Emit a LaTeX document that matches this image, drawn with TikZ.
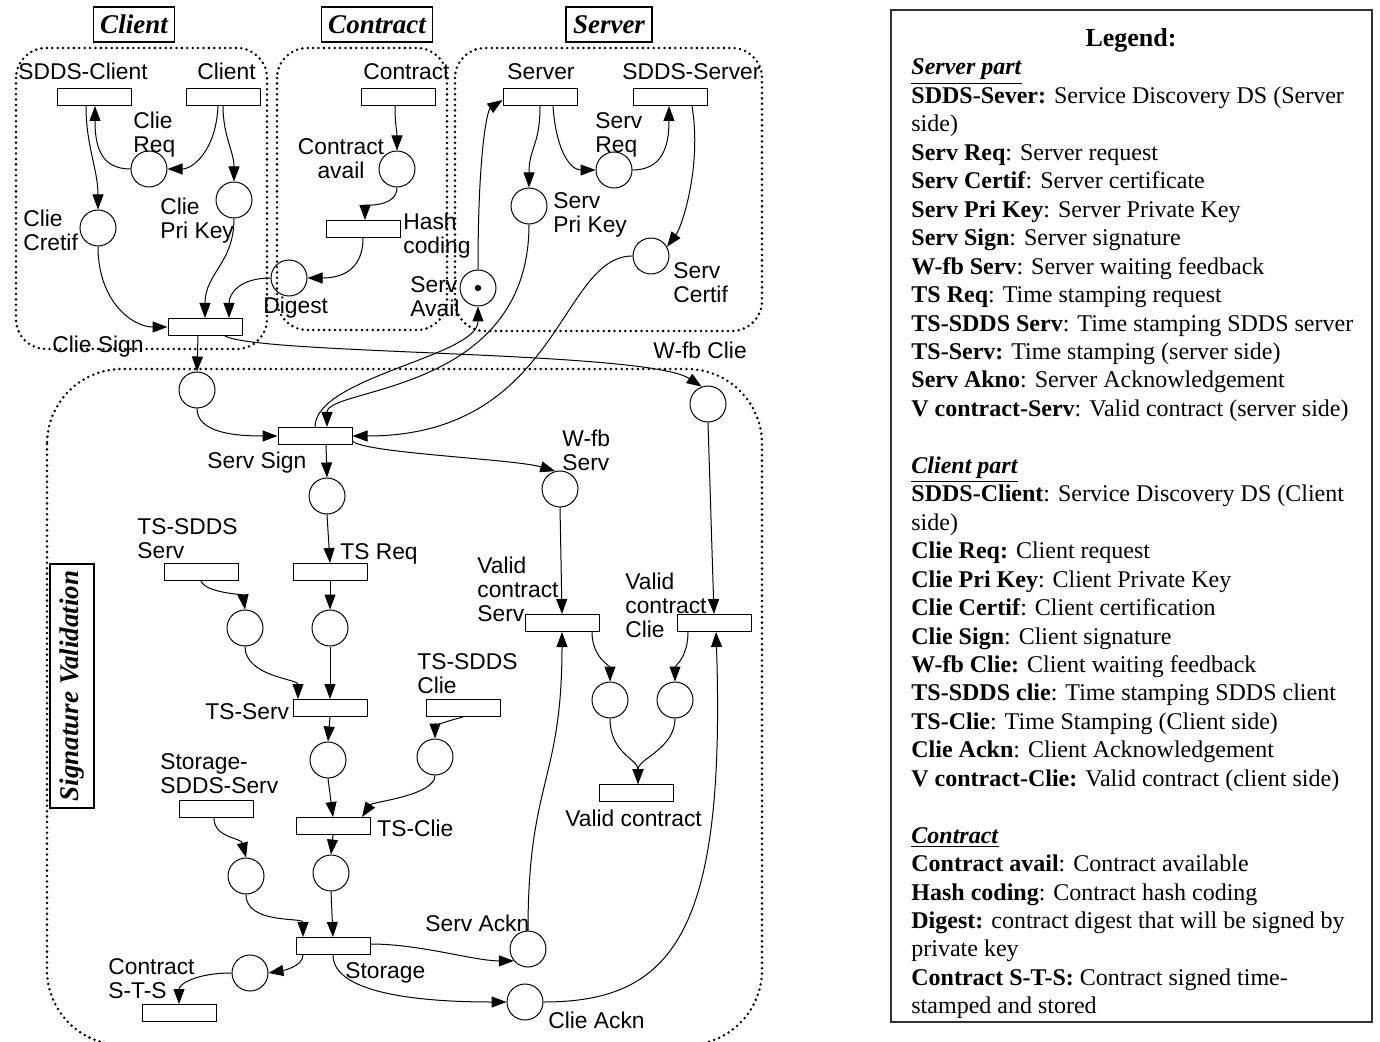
\documentclass[tikz,border=0pt]{standalone}
\usepackage{fontspec}
\setmainfont{Liberation Serif}
\setsansfont{Liberation Sans}
\usepackage{tikz}
\usetikzlibrary{arrows.meta}

\tikzset{
  place/.style={circle, draw, line width=0.5pt, minimum size=18pt, inner sep=0pt},
  trans/.style={rectangle, draw, line width=0.5pt, minimum width=37pt, minimum height=8.5pt, inner sep=0pt},
  flow/.style={line width=0.5pt, -{Triangle[length=7.5pt,width=5.5pt]}},
  lbl/.style={font=\sffamily\fontsize{11.4}{12}\selectfont, inner sep=0pt, anchor=north west, align=left},
  part/.style={draw, line width=0.7pt, font=\bfseries\itshape\fontsize{13.5}{14}\selectfont, inner xsep=3.5pt, inner ysep=0pt, minimum height=17.5pt},
  region/.style={line width=1.4pt, dash pattern=on 0pt off 2.7pt, line cap=round, rounded corners=15pt},
  legtext/.style={anchor=base west, inner sep=0pt, font=\fontsize{12}{14}\selectfont},
}

\begin{document}
\begin{tikzpicture}[x=0.5pt,y=-0.5pt]
\useasboundingbox (0,0) rectangle (1380,1042);

% part titles
\node[part] (ttlClient) at (134,24.5) {Client};
\node[part] (ttlContract) at (377,24.5) {Contract};
\node[part] (ttlServer) at (609,24.5) {Server};
\node[part, rotate=90, minimum height=22pt] (ttlSign) at (72,686) {Signature Validation};

% dotted regions
\draw[region] (16,48) rectangle (267,349);
\draw[region] (277,48) rectangle (447,330);
\draw[region] (455,48) rectangle (762,331);
\draw[region, rounded corners=37.5pt] (47,369) rectangle (762,1045);

% transitions
\node[trans] (tSDDSc) at (94,97) {};
\node[trans] (tClient) at (223,97) {};
\node[trans] (tClieSign) at (205,327) {};
\node[trans] (tContract) at (398,97) {};
\node[trans] (tHash) at (363,229) {};
\node[trans] (tServer) at (540,97) {};
\node[trans] (tSDDSs) at (670,97) {};
\node[trans] (tServSign) at (315,436) {};
\node[trans] (tTSSDDSs) at (201,572) {};
\node[trans] (tTSReq) at (330,572) {};
\node[trans] (tTSServ) at (330,708) {};
\node[trans] (tTSSDDSc) at (463,708) {};
\node[trans] (tTSClie) at (333,826) {};
\node[trans] (tStorSDDS) at (216,809) {};
\node[trans] (tStorage) at (333,946) {};
\node[trans] (tContSTS) at (179,1013) {};
\node[trans] (tVCServ) at (562,623) {};
\node[trans] (tVCClie) at (714,623) {};
\node[trans] (tValid) at (636,793) {};

% places
\node[place] (pClieReq) at (149,169) {};
\node[place] (pClieCert) at (98,228) {};
\node[place] (pCliePri) at (234,200) {};
\node[place] (pContAvail) at (397,169) {};
\node[place] (pDigest) at (289,278) {};
\node[place] (pServReq) at (614,170) {};
\node[place] (pServPri) at (529,206) {};
\node[place] (pServCert) at (651,256) {};
\node[place] (pServAvail) at (478,288) {};
\fill (pServAvail) circle (1.6pt);
\node[place] (pClieSignOut) at (197,390) {};
\node[place] (pWfbClie) at (708,404) {};
\node[place] (pServSignOut) at (327,496) {};
\node[place] (pWfbServ) at (560,489) {};
\node[place] (pTSSDDSs) at (245,628) {};
\node[place] (pTSReq) at (330,628) {};
\node[place] (pTSServ) at (328,760) {};
\node[place] (pTSSDDSc) at (435,757) {};
\node[place] (pTSClie) at (331,873) {};
\node[place] (pStorSDDS) at (246,876) {};
\node[place] (pContSTS) at (250,973) {};
\node[place] (pServAckn) at (528,949) {};
\node[place] (pClieAckn) at (525,1002) {};
\node[place] (pVCServ) at (610,700) {};
\node[place] (pVCClie) at (675,700) {};

% labels
\node[lbl] (lSDDSc) at (18,63) {SDDS-Client};
\node[lbl] (lClient) at (197,63) {Client};
\node[lbl] (lClieReq) at (133,112) {Clie\\Req};
\node[lbl] (lClieCert) at (23,210) {Clie\\Cretif};
\node[lbl] (lCliePri) at (160,198) {Clie\\Pri Key};
\node[lbl] (lClieSign) at (52,336) {Clie Sign};
\node[lbl] (lContract) at (363,63) {Contract};
\node[lbl, anchor=north, align=center] (lContAvail) at (341,138) {Contract\\avail};
\node[lbl] (lHash) at (403,213) {Hash\\coding};
\node[lbl] (lDigest) at (263,297) {Digest};
\node[lbl] (lServer) at (507,63) {Server};
\node[lbl] (lSDDSs) at (622,63) {SDDS-Server};
\node[lbl] (lServReq) at (595,112) {Serv\\Req};
\node[lbl] (lServPri) at (553,192) {Serv\\Pri Key};
\node[lbl] (lServCert) at (673,262) {Serv\\Certif};
\node[lbl] (lServAvail) at (410,276) {Serv\\Avail};
\node[lbl] (lWfbClie) at (653,342) {W-fb Clie};
\node[lbl] (lServSign) at (207,452) {Serv Sign};
\node[lbl] (lWfbServ) at (562,430) {W-fb\\Serv};
\node[lbl] (lTSSDDSs) at (137,518) {TS-SDDS\\Serv};
\node[lbl] (lTSReq) at (340,543) {TS Req};
\node[lbl] (lVCServ) at (477,557) {Valid\\contract\\Serv};
\node[lbl] (lVCClie) at (625,573) {Valid\\contract\\Clie};
\node[lbl] (lTSServ) at (205,703) {TS-Serv};
\node[lbl] (lTSSDDSc) at (417,653) {TS-SDDS\\Clie};
\node[lbl] (lStorSDDS) at (160,753) {Storage-\\SDDS-Serv};
\node[lbl] (lTSClie) at (377,820) {TS-Clie};
\node[lbl] (lValid) at (565,810) {Valid contract};
\node[lbl] (lServAckn) at (425,915) {Serv Ackn};
\node[lbl] (lStorage) at (345,962) {Storage};
\node[lbl] (lContSTS) at (108,958) {Contract\\S-T-S};
\node[lbl] (lClieAckn) at (548,1012) {Clie Ackn};

% client arcs
\draw[flow] ([xshift=-4pt]tSDDSc.south) .. controls +(0,40) and +(0,-40) .. (pClieCert.north);
\draw[flow] (pClieReq.west) .. controls +(-30,0) and +(0,40) .. ([xshift=0.5pt]tSDDSc.south);
\draw[flow] ([xshift=-2.5pt]tClient.south) .. controls +(-2,45) and +(25,0) .. (pClieReq.east);
\draw[flow] (tClient.south) .. controls +(0,30) and +(0,-30) .. (pCliePri.north);
\draw[flow] (pClieCert.south) .. controls +(0,55) and +(-35,0) .. (tClieSign.west);
\draw[flow] (pCliePri.south) .. controls +(0,45) and +(0,-45) .. (tClieSign.north);
\draw[flow] (pDigest.west) .. controls +(-30,0) and +(0,-25) .. ([xshift=12pt]tClieSign.north);

% contract arcs
\draw[flow] ([xshift=-1.5pt]tContract.south) .. controls +(0,20) and +(0,-20) .. (pContAvail.north);
\draw[flow] (pContAvail.south) .. controls +(0,20) and +(0,-15) .. ([xshift=1pt]tHash.north);
\draw[flow] (tHash.south) .. controls +(0,35) and +(30,0) .. (pDigest.east);

% server arcs
\draw[flow] (tServer.south) .. controls +(0,40) and +(0,-40) .. (pServPri.north);
\draw[flow] ([xshift=6.5pt]tServer.south) .. controls +(3,45) and +(-25,0) .. (pServReq.west);
\draw[flow] (pServReq.east) .. controls +(30,0) and +(0,40) .. ([xshift=-0.5pt]tSDDSs.south);
\draw[flow] ([xshift=11pt]tSDDSs.south) .. controls +(10,60) and +(15,-20) .. (pServCert.30);
\draw[flow] (pServAvail.north) .. controls +(0,-120) and +(-15,10) .. ([yshift=-1.5pt]tServer.west);

% signature validation arcs
\draw[flow] ([xshift=-3.5pt]tClieSign.south) -- (pClieSignOut.north);
\draw[flow] ([xshift=10pt]tClieSign.south) .. controls +(35,19) and +(-55,-36) .. (pWfbClie.110);
\draw[flow] (pClieSignOut.south) .. controls +(0,25) and +(-40,0) .. (tServSign.west);
\draw[flow] (pServPri.south) .. controls +(0,170) and +(0,-40) .. ([xshift=6pt]tServSign.north);
\draw[flow] (tServSign.north) .. controls +(0,-50) and +(0,50) .. (pServAvail.south);
\draw[flow] (pServCert.west) .. controls +(-73,0) and +(207,0) .. (tServSign.east);
\draw[flow] ([xshift=5.5pt]tServSign.south) -- (pServSignOut.north);
\draw[flow] ([yshift=-2.5pt]tServSign.east) .. controls +(10,12) and +(-40,-12) .. (pWfbServ.105);
\draw[flow] (pServSignOut.south) -- (tTSReq.north);
\draw[flow] (tTSSDDSs.south) .. controls +(5,12) and +(-2,-15) .. (pTSSDDSs.north);
\draw[flow] (tTSReq.south) -- (pTSReq.north);
\draw[flow] (pTSSDDSs.south) .. controls +(0,30) and +(0,-20) .. ([xshift=-16pt]tTSServ.north);
\draw[flow] (pTSReq.south) -- (tTSServ.north);
\draw[flow] (tTSServ.south) -- (pTSServ.north);
\draw[flow] (tTSSDDSc.south) .. controls +(-20,5) and +(0,-12) .. (pTSSDDSc.north);
\draw[flow] (pTSSDDSc.south) .. controls +(0,20) and +(10,-15) .. ([xshift=14.5pt]tTSClie.north);
\draw[flow] (pTSServ.south) -- (tTSClie.north);
\draw[flow] (tTSClie.south) -- (pTSClie.north);
\draw[flow] ([xshift=-1pt]tStorSDDS.south) .. controls +(0,20) and +(-5,-20) .. (pStorSDDS.north);
\draw[flow] (pStorSDDS.south) .. controls +(0,30) and +(0,-20) .. ([xshift=-15pt]tStorage.north);
\draw[flow] (pTSClie.south) -- (tStorage.north);
\draw[flow] ([xshift=-15pt]tStorage.south) .. controls +(0,12) and +(12,-2) .. (pContSTS.east);
\draw[flow] (pContSTS.west) .. controls +(-35,0) and +(0,-20) .. (tContSTS.north);
\draw[flow] ([yshift=1pt]tStorage.east) .. controls +(50,0) and +(-40,0) .. (pServAckn.220);
\draw[flow] (tStorage.south) .. controls +(0,40) and +(-80,0) .. (pClieAckn.west);
\draw[flow] (pServAckn.north) .. controls +(0,-150) and +(0,150) .. (tVCServ.south);
\draw[flow] (pWfbServ.south) -- (tVCServ.north);
\draw[flow] (pWfbClie.south) -- (tVCClie.north);
\draw[flow] (pClieAckn.east) .. controls +(130,0) and +(10,300) .. ([xshift=1pt]tVCClie.south);
\draw[flow] ([xshift=15pt]tVCServ.south) .. controls +(0,25) and +(0,-15) .. (pVCServ.north);
\draw[flow] ([xshift=-13pt]tVCClie.south) .. controls +(0,25) and +(0,-15) .. (pVCClie.north);
\draw[flow] (pVCServ.south) .. controls +(0,35) and +(0,-25) .. ([xshift=1pt]tValid.north);
\draw[flow] (pVCClie.south) .. controls +(0,30) and +(0,-25) .. ([xshift=1pt]tValid.north);

% legend
\draw[line width=0.6pt, black!80] (891,10) rectangle (1372,1022);
\node[anchor=base, inner sep=0pt, font=\bfseries\fontsize{13}{14}\selectfont] (legTitle) at (1131,47) {Legend:};
\foreach \txt [count=\i from 0] in {
  {\underline{\textbf{\textit{Server part}}}},
  {\textbf{SDDS-Sever:} Service Discovery DS (Server},
  {side)},
  {\textbf{Serv Req}: Server request},
  {\textbf{Serv Certif}: Server certificate},
  {\textbf{Serv Pri Key}: Server Private Key},
  {\textbf{Serv Sign}: Server signature},
  {\textbf{W-fb Serv}: Server waiting feedback},
  {\textbf{TS Req}: Time stamping request},
  {\textbf{TS-SDDS Serv}: Time stamping SDDS server},
  {\textbf{TS-Serv:} Time stamping (server side)},
  {\textbf{Serv Akno}: Server Acknowledgement},
  {\textbf{V contract-Serv}: Valid contract (server side)}}
  \node[legtext] (legS\i) at (911,{75+28.45*\i}) {\txt};
\foreach \txt [count=\i from 0] in {
  {\underline{\textbf{\textit{Client part}}}},
  {\textbf{SDDS-Client}: Service Discovery DS (Client},
  {side)},
  {\textbf{Clie Req:} Client request},
  {\textbf{Clie Pri Key}: Client Private Key},
  {\textbf{Clie Certif}: Client certification},
  {\textbf{Clie Sign}: Client signature},
  {\textbf{W-fb Clie:} Client waiting feedback},
  {\textbf{TS-SDDS clie}: Time stamping SDDS client},
  {\textbf{TS-Clie}: Time Stamping (Client side)},
  {\textbf{Clie Ackn}: Client Acknowledgement},
  {\textbf{V contract-Clie:} Valid contract (client side)}}
  \node[legtext] (legC\i) at (911,{75+28.45*(\i+14)}) {\txt};
\foreach \txt [count=\i from 0] in {
  {\underline{\textbf{\textit{Contract}}}},
  {\textbf{Contract avail}: Contract available},
  {\textbf{Hash coding}: Contract hash coding},
  {\textbf{Digest:} contract digest that will be signed by},
  {private key},
  {\textbf{Contract S-T-S:} Contract signed time-},
  {stamped and stored}}
  \node[legtext] (legK\i) at (911,{75+28.45*(\i+27)}) {\txt};

\end{tikzpicture}
\end{document}
